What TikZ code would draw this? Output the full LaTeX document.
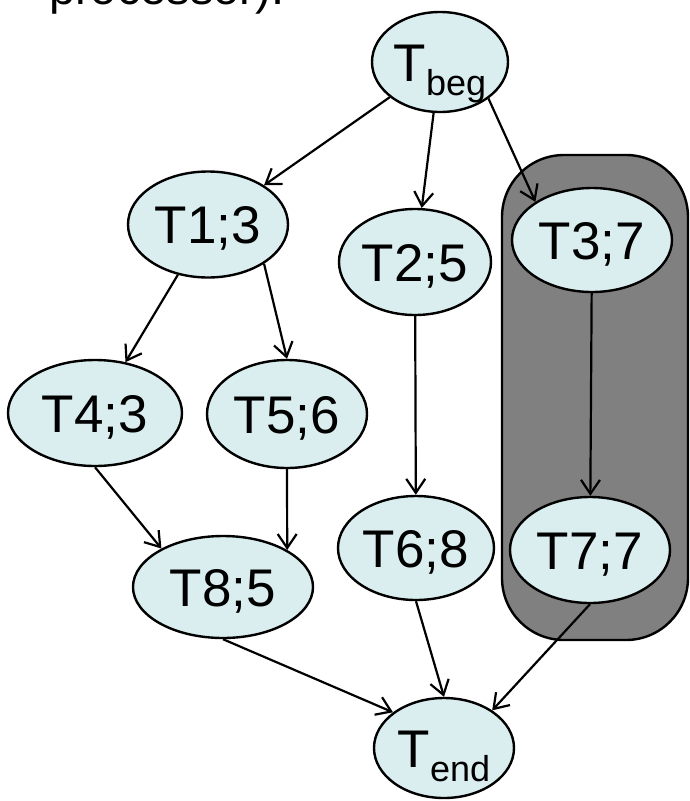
\documentclass[tikz,border=0pt]{standalone}
\usepackage{fontspec}
\setmainfont{Liberation Sans}
\usetikzlibrary{shapes.geometric,arrows.meta}
\definecolor{taskfill}{RGB}{218,237,239}
\definecolor{boxgray}{RGB}{128,128,128}
\newcommand{\tname}[1]{\makebox[0pt]{#1}}
\tikzset{
  task/.style={ellipse, draw, fill=taskfill, line width=2.4pt, inner sep=0pt,
    text height=38pt, text depth=0pt, font=\fontsize{53}{60}\selectfont},
  dep/.style={-{Straight Barb[length=14pt,width=19pt]}, line width=2.2pt}
}
\begin{document}
\begin{tikzpicture}[x=1pt,y=-1pt]
                  \useasboundingbox (0,0) rectangle (690,801);
                  \clip (0,0) rectangle (690,801);

                  % Draw the cut-off heading
                  \node[anchor=base west, inner sep=0pt, font=\fontsize{47}{50}\selectfont] (head) at (49,4) {processor):};

                  % Draw the processor box
                  \draw[fill=boxgray, line width=2.4pt, rounded corners=62pt] (502,155) rectangle (688,640);

                  % Draw the tasks
                  \node[task, minimum width=136pt, minimum height=100pt] (Tbeg) at (440,62) {\tname{T\raisebox{-14pt}{\fontsize{36}{40}\selectfont beg}}};
                  \node[task, minimum width=160pt, minimum height=106pt] (T1) at (208,224.5) {\tname{T1;3}};
                  \node[task, minimum width=152pt, minimum height=106pt] (T2) at (415,262) {\tname{T2;5}};
                  \node[task, minimum width=160pt, minimum height=104pt] (T3) at (592,240) {\tname{T3;7}};
                  \node[task, minimum width=174pt, minimum height=106pt] (T4) at (95,413) {\tname{T4;3}};
                  \node[task, minimum width=160pt, minimum height=108pt] (T5) at (287,414) {\tname{T5;6}};
                  \node[task, minimum width=156pt, minimum height=104pt] (T6) at (416,548) {\tname{T6;8}};
                  \node[task, minimum width=160pt, minimum height=106pt] (T7) at (590,550) {\tname{T7;7}};
                  \node[task, minimum width=180pt, minimum height=102pt] (T8) at (223,587) {\tname{T8;5}};
                  \node[task, minimum width=140pt, minimum height=100pt] (Tend) at (444,748) {\tname{T\raisebox{-14pt}{\fontsize{36}{40}\selectfont end}}};

                  % Draw the dependencies
                  \draw[dep] (Tbeg) -- (T1);
                  \draw[dep] (Tbeg) -- (T2);
                  \draw[dep] (Tbeg.-37) -- (T3.146);
                  \draw[dep] (T1) -- (T4);
                  \draw[dep] (T1.-35) -- (T5.north);
                  \draw[dep] (T2) -- (T6);
                  \draw[dep] (T3) -- (T7);
                  \draw[dep] (T4.south) -- (T8.148);
                  \draw[dep] (T5.south) -- (T8.30);
                  \draw[dep] (T6.south) -- (Tend.north);
                  \draw[dep] (T7.south) -- (Tend.38);
                  \draw[dep] (T8.south) -- (Tend.145);

            \end{tikzpicture}
\end{document}
